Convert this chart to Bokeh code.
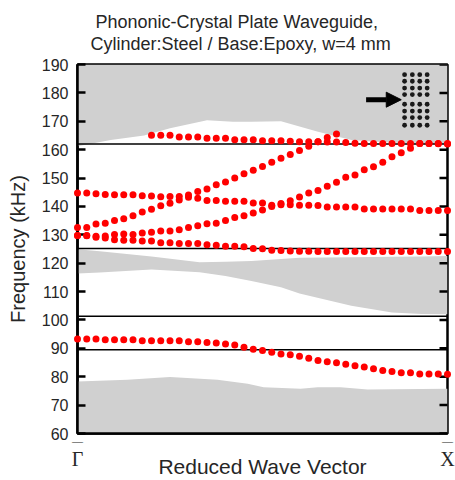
from bokeh.plotting import figure
from bokeh.models import Range1d, LinearAxis, FixedTicker, Span, Arrow, NormalHead, Title
from bokeh.embed import file_html
from bokeh.resources import INLINE

# ---------------- data ----------------
# reduced wave vector sample positions (Gamma = 0 ... X = 1), 41 samples
k = [round(i * 0.025, 3) for i in range(41)]

mode_A = [93.3, 93.3, 93.3, 93.0, 93.0, 93.0, 93.0, 92.7, 92.7, 92.7, 92.7, 92.7, 92.3, 92.3,
          92.1, 91.9, 91.5, 91.2, 90.4, 89.7, 89.2, 88.6, 88.0, 87.7, 87.2, 86.5, 85.7, 85.3,
          84.9, 84.4, 83.9, 83.4, 82.8, 82.2, 81.8, 81.4, 81.4, 81.0, 81.0, 81.0, 80.9]
mode_B = [129.8, 129.7, 129.1, 128.9, 128.3, 128.1, 128.1, 127.8, 127.8, 127.2, 127.2, 126.9,
          126.9, 126.9, 126.5, 126.3, 126.0, 126.0, 125.8, 125.2, 125.1, 124.6, 124.5, 124.3,
          124.2, 124.2, 124.1, 124.1, 124.1, 124.1, 124.1, 124.1, 124.1, 124.1, 124.1, 124.1,
          124.1, 124.1, 124.1, 124.1, 124.1]
mode_C2 = [129.8, 129.8, 129.5, 129.6, 130.1, 130.3, 130.1, 130.6, 130.9, 131.3, 131.3, 131.8,
           132.6, 133.2, 133.9, 134.1, 135.0, 136.1, 136.7, 137.7, 138.7, 140.0, 141.0, 142.0,
           143.3, 144.7, 145.6, 147.1, 148.5, 150.3, 151.1, 152.9, 154.0, 155.6, 157.5, 158.9,
           160.5, 162.2, 162.2, 162.1, 162.0]
mode_C = [132.6, 132.6, 133.8, 134.1, 135.0, 135.7, 136.7, 138.0, 139.0, 140.2, 141.1, 142.3,
          144.0, 145.3, 146.1, 147.6, 148.6, 150.0, 151.5, 152.7, 154.1, 155.6, 157.0, 158.3,
          159.7, 161.2, 162.8, 164.3, 165.5]
mode_F = [144.7, 144.7, 144.5, 144.2, 144.1, 144.1, 144.1, 143.8, 143.7, 143.4, 143.5, 143.5,
          143.2, 142.9, 142.1, 142.1, 141.8, 141.8, 141.8, 141.2, 141.2, 140.4, 140.6, 140.6,
          140.4, 140.4, 140.3, 139.8, 139.8, 139.8, 139.8, 139.1, 139.1, 139.1, 139.1, 139.1,
          139.1, 138.6, 138.6, 138.6, 138.6]
mode_T = [165.1, 165.1, 165.1, 164.5, 164.5, 164.5, 164.0, 164.0, 164.0, 163.5, 163.5, 163.5,
          163.1, 163.1, 163.1, 163.0, 162.8, 162.8, 162.8, 162.7, 162.7, 162.5, 162.3, 162.2,
          162.2, 162.2, 162.2, 162.2, 162.2, 162.2, 162.2, 162.2, 162.2]

# bulk (plate) band regions
top_k = [0, 0.09, 0.18, 0.25, 0.35, 0.42, 0.47, 0.55, 0.65, 0.74, 0.81, 0.9, 1.0]
top_lower = [161.2, 163.4, 165.0, 167.5, 170.4, 169.8, 169.8, 170.0, 166.3, 163.4, 162.8, 162.2, 162.0]
mid_k = [0, 0.06, 0.2, 0.33, 0.4, 0.47, 0.55, 0.6, 0.74, 0.85, 0.93, 1.0]
mid_upper = [124.9, 124.2, 122.4, 120.3, 120.5, 120.8, 121.5, 121.9, 122.1, 122.3, 122.4, 122.5]
mid_lower = [116.4, 116.7, 117.8, 116.8, 115.5, 113.7, 111.5, 109.3, 105.0, 102.6, 102.1, 102.0]
bot_k = [0, 0.135, 0.25, 0.378, 0.46, 0.503, 0.603, 0.649, 0.711, 0.784, 1.0]
bot_upper = [78.3, 78.9, 79.9, 78.9, 77.5, 76.3, 75.8, 76.3, 76.3, 75.5, 75.8]

# band-gap edges
gap_edges = [162.0, 125.2, 101.3, 89.5]

y_ticks = [60, 70, 80, 90, 100, 110, 120, 130, 140, 150, 160, 170, 180, 190]
x_ticks = [0, 1]
x_tick_labels = {0: "\u0393", 1: "X"}
x_tick_bars = {0: "\u2014", 1: "\u2014"}

title_line1 = "Phononic-Crystal Plate Waveguide,"
title_line2 = "Cylinder:Steel / Base:Epoxy, w=4 mm"

# inset sketch: lattice of cylinders with a line defect, and incident arrow
inset_cols = [0.884, 0.905, 0.925, 0.945]
inset_rows = [186.4, 184.1, 181.7, 179.4, 176.0, 173.6, 171.3, 168.6]
arrow_x = [0.78, 0.875]
arrow_y = 177.6

# ---------------- figure ----------------
SANS = "Liberation Sans"
SERIF = "Liberation Serif"
TXT = "#262626"
GRAY = "#d0d0d0"

p = figure(width=455, height=480, x_range=Range1d(0, 1), y_range=Range1d(60, 190),
           output_backend="svg", toolbar_location=None, title=None,
           min_border_left=77, min_border_right=8, min_border_top=64, min_border_bottom=45)

# two title lines, each positioned on its own (nearest the frame added first)
for txt, off, so in [(title_line2, 13, 21), (title_line1, 18, -21)]:
    p.add_layout(Title(text=txt, align="left", offset=off, text_font=SANS,
                       text_font_size="18px", text_font_style="normal", text_color=TXT,
                       standoff=so), "above")

p.xgrid.visible = False
p.ygrid.visible = False
p.outline_line_color = "black"
p.outline_line_width = 2.5
p.background_fill_color = "white"
p.border_fill_color = "white"

# bands
p.varea(x=top_k, y1=top_lower, y2=[190] * len(top_k), fill_color=GRAY)
p.varea(x=mid_k, y1=mid_lower, y2=mid_upper, fill_color=GRAY)
p.varea(x=bot_k, y1=[60] * len(bot_k), y2=bot_upper, fill_color=GRAY)

for g in gap_edges:
    p.add_layout(Span(location=g, dimension="width", line_color="black", line_width=1.6))

# inward ticks on the right frame edge (half of each dash is clipped away)
p.scatter(x=[1] * len(y_ticks), y=y_ticks, marker="dash", size=16, line_width=2.5,
          line_color="black")

# modes
red = "#ff0000"
for xs, ys in [(k, mode_A), (k, mode_B), (k, mode_C2), (k[:len(mode_C)], mode_C),
               (k, mode_F), (k[41 - len(mode_T):], mode_T)]:
    r = p.scatter(xs, ys, size=7, fill_color=red, line_color=None)
    r.level = "overlay"

# inset
ix = [c for r_ in inset_rows for c in inset_cols]
iy = [r_ for r_ in inset_rows for c in inset_cols]
p.scatter(ix, iy, size=4.8, fill_color="#1a1a1a", line_color=None)
p.add_layout(Arrow(end=NormalHead(size=15, fill_color="black", line_color="black"),
                   x_start=arrow_x[0], y_start=arrow_y, x_end=arrow_x[1], y_end=arrow_y,
                   line_width=5, line_color="black"))

# y axis
ya = p.yaxis[0]
ya.ticker = FixedTicker(ticks=y_ticks)
ya.axis_label = "Frequency (kHz)"
ya.major_tick_in = 8
ya.major_tick_out = 0
ya.minor_tick_line_color = None
ya.axis_line_width = 2.5
ya.major_tick_line_width = 2.5
ya.major_label_text_font = SANS
ya.major_label_text_font_size = "16px"
ya.major_label_text_color = TXT
ya.major_label_standoff = 9
ya.axis_label_text_font = SANS
ya.axis_label_text_font_size = "20px"
ya.axis_label_text_font_style = "normal"
ya.axis_label_text_color = TXT
ya.axis_label_standoff = 10

# x axis: first (nearest the frame) carries the overbars, second the symbols and title
xa = p.xaxis[0]
xa.ticker = FixedTicker(ticks=x_ticks)
xa.major_label_overrides = x_tick_bars
xa.major_tick_in = 0
xa.major_tick_out = 0
xa.minor_tick_line_color = None
xa.axis_line_width = 2.5
xa.major_label_text_font = SERIF
xa.major_label_text_font_size = "11px"
xa.major_label_text_color = TXT
xa.major_label_standoff = 1

xb = LinearAxis(ticker=FixedTicker(ticks=x_ticks), major_label_overrides=x_tick_labels,
                major_tick_in=0, major_tick_out=0, minor_tick_line_color=None,
                axis_line_color=None,
                major_label_text_font=SERIF, major_label_text_font_size="20px",
                major_label_text_color=TXT, major_label_standoff=-2,
                axis_label="Reduced Wave Vector", axis_label_text_font=SANS,
                axis_label_text_font_size="21px", axis_label_text_font_style="normal",
                axis_label_text_color=TXT, axis_label_standoff=-18)
p.add_layout(xb, "below")

open("out.html", "w").write(file_html(p, INLINE))
